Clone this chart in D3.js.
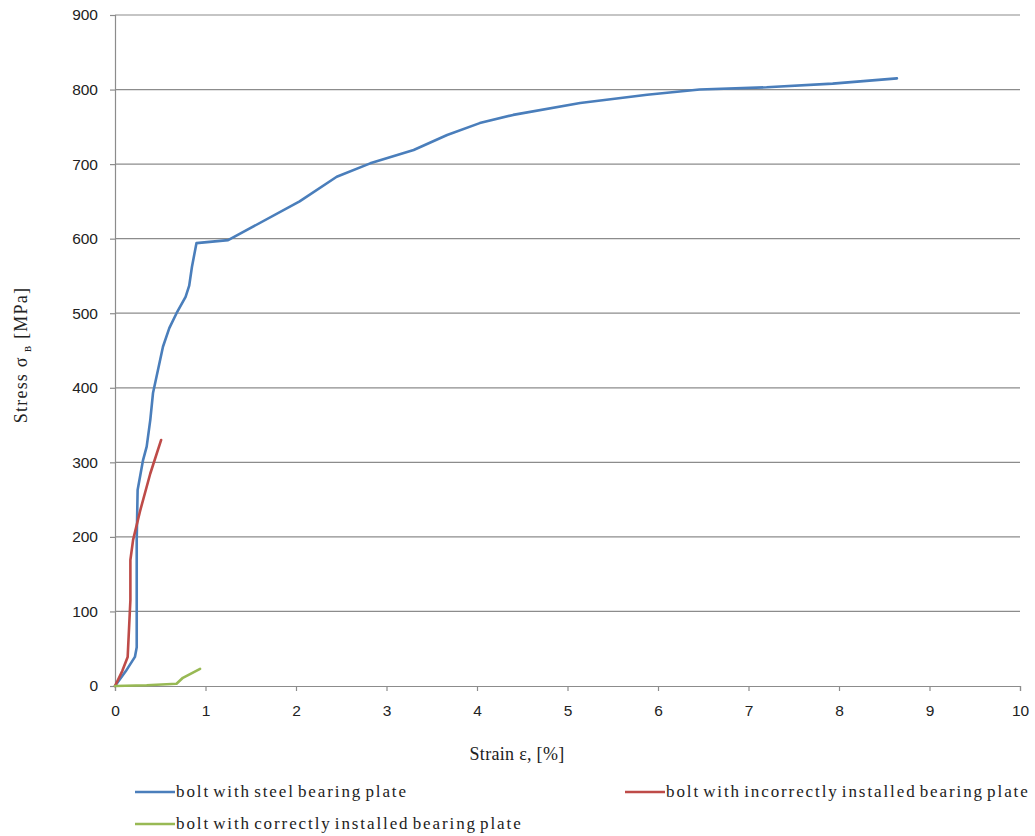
<!DOCTYPE html>
<html>
<head>
<meta charset="utf-8">
<script src="https://cdn.jsdelivr.net/npm/d3@7"></script>
<style>
  body { margin: 0; background: #fff; }
</style>
</head>
<body>
<svg id="chart" width="1035" height="836"></svg>
<script>
// Data (strain %, stress MPa)
const steelStrain = [0, 0.12, 0.22, 0.24, 0.24, 0.24, 0.25, 0.31, 0.35, 0.39, 0.42, 0.53, 0.60, 0.68, 0.78, 0.82, 0.85, 0.90, 1.25, 2.04, 2.45, 2.82, 3.30, 3.67, 4.03, 4.40, 5.14, 5.88, 6.46, 7.20, 7.93, 8.64];
const steelStress = [0, 20, 39, 52, 120, 196, 263, 303, 321, 357, 393, 455, 480, 500, 522, 537, 562, 594, 598, 650, 683, 701, 719, 739, 755, 766, 782, 793, 800, 803, 808, 815];

const incorrectStrain = [0, 0.08, 0.14, 0.17, 0.17, 0.20, 0.28, 0.39, 0.51];
const incorrectStress = [0, 20, 39, 115, 169, 196, 236, 285, 330];

const correctStrain = [0, 0.35, 0.68, 0.75, 0.94];
const correctStress = [0, 1, 3, 11, 23];

const seriesNames = [
  "bolt with steel bearing plate",
  "bolt with incorrectly installed bearing plate",
  "bolt with correctly installed bearing plate"
];
const seriesColors = ["#4a7ebb", "#be4b48", "#98b954"];

const xTicks = d3.range(0, 11, 1);
const yTicks = d3.range(0, 1000, 100);

const svg = d3.select("#chart");
const margin = { top: 15, left: 115, right: 15, bottom: 150 };
const plotW = 1020 - margin.left;
const plotH = 686 - margin.top;

const x = d3.scaleLinear().domain([0, 10]).range([0, plotW]);
const y = d3.scaleLinear().domain([0, 900]).range([plotH, 0]);

const g = svg.append("g").attr("transform", `translate(${margin.left},${margin.top})`);

// horizontal gridlines
g.append("g")
  .selectAll("line")
  .data(yTicks.filter(d => d > 0))
  .join("line")
  .attr("x1", 0).attr("x2", plotW)
  .attr("y1", d => y(d)).attr("y2", d => y(d))
  .attr("stroke", "#8c8c8c")
  .attr("stroke-width", 1.2);

// y axis
const yAxis = g.append("g")
  .call(d3.axisLeft(y).tickValues(yTicks).tickSize(5).tickPadding(12));
// x axis
const xAxis = g.append("g")
  .attr("transform", `translate(0,${plotH})`)
  .call(d3.axisBottom(x).tickValues(xTicks).tickSize(5).tickPadding(14));

[yAxis, xAxis].forEach(ax => {
  ax.select(".domain").attr("stroke", "#8c8c8c").attr("stroke-width", 1.2);
  ax.selectAll(".tick line").attr("stroke", "#8c8c8c").attr("stroke-width", 1.2);
  ax.selectAll("text")
    .attr("fill", "#222")
    .style("font-family", "'Liberation Sans', Arial, sans-serif")
    .style("font-size", "15.5px");
});

// series lines
const series = [
  { xs: steelStrain, ys: steelStress },
  { xs: incorrectStrain, ys: incorrectStress },
  { xs: correctStrain, ys: correctStress }
];
const line = d3.line().x(d => x(d[0])).y(d => y(d[1]));

series.forEach((s, i) => {
  g.append("path")
    .datum(s.xs.map((v, k) => [v, s.ys[k]]))
    .attr("fill", "none")
    .attr("stroke", seriesColors[i])
    .attr("stroke-width", 2.6)
    .attr("stroke-linejoin", "round")
    .attr("stroke-linecap", "round")
    .attr("d", line);
});

const serif = "'Liberation Serif', 'Times New Roman', serif";

// axis titles
svg.append("text")
  .attr("x", 517)
  .attr("y", 760)
  .attr("text-anchor", "middle")
  .style("font-family", serif)
  .style("font-size", "18px")
  .style("letter-spacing", "0.3px")
  .attr("fill", "#222")
  .text("Strain ε, [%]");

const yTitle = svg.append("text")
  .attr("transform", "translate(27,355) rotate(-90)")
  .attr("text-anchor", "middle")
  .style("font-family", serif)
  .style("font-size", "18px")
  .style("letter-spacing", "1.2px")
  .attr("fill", "#222");
yTitle.append("tspan").text("Stress σ");
yTitle.append("tspan").attr("dy", 4).style("font-size", "13px").text(" в");
yTitle.append("tspan").attr("dy", -4).text(" [MPa]");

// legend
const legendPos = [[135, 792], [625, 792], [135, 824]];
const legend = svg.append("g");
seriesNames.forEach((name, i) => {
  const [lx, ly] = legendPos[i];
  legend.append("line")
    .attr("x1", lx).attr("x2", lx + 40)
    .attr("y1", ly).attr("y2", ly)
    .attr("stroke", seriesColors[i])
    .attr("stroke-width", 2.6);
  legend.append("text")
    .attr("x", lx + 41)
    .attr("y", ly + 5)
    .style("font-family", serif)
    .style("font-size", "17px")
    .style("letter-spacing", "1.9px")
    .style("word-spacing", "-3px")
    .attr("fill", "#222")
    .text(name);
});
</script>
</body>
</html>
